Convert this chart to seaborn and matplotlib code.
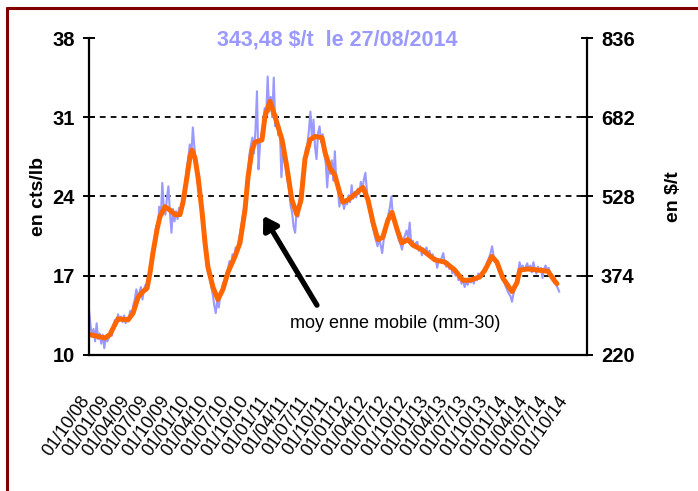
import pandas as pd
import matplotlib
matplotlib.use("Agg")
import matplotlib.pyplot as plt
import matplotlib.dates as mdates
import matplotlib.transforms as mtransforms
from matplotlib.lines import Line2D
import seaborn as sns

sns.set_style("white")
plt.rcParams["font.family"] = ["Liberation Sans", "DejaVu Sans"]
plt.rcParams["text.color"] = "black"
plt.rcParams["axes.labelcolor"] = "black"
plt.rcParams["xtick.color"] = "black"
plt.rcParams["ytick.color"] = "black"
plt.rcParams["axes.edgecolor"] = "black"

# weekly prices (cts/lb), first week 01/10/2008, last 27/08/2014
raw_start = "2008-10-01"
raw_prices = [
    14.0, 12.6, 11.6, 12.3, 11.2, 12.8, 11.4, 11.9, 11.0, 11.8, 10.6, 11.6, 11.2,
    11.5, 12.0, 11.7, 12.6, 13.1, 12.8, 13.6, 13.0, 13.4, 12.9, 13.5, 12.8, 13.3,
    13.2, 13.9, 13.5, 14.4, 14.9, 15.8, 15.2, 15.5, 16.0, 14.9, 15.8, 16.2, 15.7,
    16.8, 17.6, 18.4, 19.3, 20.2, 21.4, 21.0, 23.1, 22.0, 25.2, 23.0, 22.4, 23.8,
    24.9, 22.6, 20.8, 22.9, 21.8, 22.7, 22.0, 23.0, 22.3, 23.6, 24.4, 25.2, 26.5,
    27.4, 28.6, 27.6, 30.1, 28.4, 27.0, 25.2, 26.0, 23.4, 22.0, 20.4, 19.2, 18.3,
    17.2, 16.9, 16.1, 15.4, 14.4, 13.7, 14.9, 14.2, 15.3, 15.8, 16.4, 16.1, 17.2,
    17.6, 18.3, 17.9, 18.9, 18.4, 19.5, 19.0, 20.1, 20.8, 21.6, 22.5, 23.4, 24.6,
    26.0, 27.6, 28.5, 29.2, 27.8, 29.8, 33.3, 26.4, 28.6, 29.5, 30.3, 31.8, 30.9,
    34.6, 31.5, 32.8, 31.0, 34.5, 30.2, 31.2, 29.4, 29.9, 25.7, 28.0, 27.2, 26.3,
    25.4, 24.6, 23.2, 22.6, 21.3, 20.8, 22.9, 22.2, 23.9, 24.8, 25.9, 27.0, 28.2,
    28.6, 29.8, 31.5, 29.0, 30.8, 28.4, 27.3, 29.6, 30.2, 28.8, 29.5, 27.8, 27.0,
    24.8, 26.9, 26.0, 27.2, 25.4, 28.0, 25.1, 24.6, 23.1, 24.0, 23.8, 22.9, 23.6,
    23.3, 24.1, 23.5, 25.0, 23.8, 24.4, 23.9, 24.7, 24.2, 25.3, 24.6, 25.5, 26.1,
    24.5, 23.2, 22.6, 21.8, 21.2, 20.6, 20.1, 19.6, 20.4, 19.7, 19.0, 20.2, 20.8,
    21.6, 22.4, 23.0, 24.0, 22.3, 21.8, 21.2, 20.6, 20.1, 19.8, 19.3, 20.2, 20.6,
    21.0, 20.3, 21.7, 19.8, 20.1, 19.5, 19.9, 20.0, 19.2, 19.6, 18.8, 19.4, 19.1,
    19.5, 18.9, 19.2, 18.6, 18.9, 18.3, 18.6, 17.7, 18.4, 18.2, 18.6, 19.0, 18.1,
    17.8, 18.2, 17.6, 17.9, 17.2, 17.6, 17.0, 17.3, 16.6, 16.9, 16.3, 16.6, 16.0,
    16.5, 16.2, 16.8, 16.4, 16.7, 16.3, 16.9, 16.6, 17.2, 16.8, 17.0, 17.4, 17.7,
    17.9, 18.3, 18.6, 19.0, 19.6, 18.7, 18.3, 18.0, 17.6, 17.3, 17.0, 16.7, 16.4,
    16.0, 15.7, 15.4, 15.2, 14.7, 15.4, 15.9, 16.6, 17.3, 18.2, 17.6, 17.9, 17.4,
    17.8, 18.1, 17.5, 17.9, 17.3, 18.2, 17.6, 17.2, 17.8, 17.4, 17.7, 16.8, 17.6,
    17.9, 17.5, 17.7, 17.2, 17.0, 16.6, 16.8, 16.2, 15.9, 15.58,
]

# 30-day moving average
ma_dates = [
    "2008-10-05", "2008-10-28", "2008-11-20", "2008-12-13", "2009-01-05", "2009-01-28",
    "2009-02-11", "2009-03-29", "2009-04-21", "2009-05-14", "2009-06-05", "2009-06-24",
    "2009-07-08", "2009-07-21", "2009-08-09", "2009-08-22", "2009-09-14", "2009-10-07",
    "2009-10-30", "2009-11-22", "2009-12-06", "2009-12-24", "2010-01-07", "2010-01-16",
    "2010-01-30", "2010-02-13", "2010-03-03", "2010-03-17", "2010-03-30", "2010-04-22",
    "2010-05-15", "2010-06-07", "2010-06-30", "2010-08-01", "2010-08-24", "2010-09-16",
    "2010-09-30", "2010-10-18", "2010-11-01", "2010-12-03", "2010-12-17", "2011-01-09",
    "2011-01-31", "2011-03-05", "2011-03-27", "2011-04-19", "2011-05-12", "2011-05-31",
    "2011-06-18", "2011-07-11", "2011-08-03", "2011-09-04", "2011-09-18", "2011-10-11",
    "2011-11-02", "2011-11-25", "2011-12-09", "2012-01-01", "2012-02-02", "2012-03-10",
    "2012-04-02", "2012-04-25", "2012-05-17", "2012-06-09", "2012-07-02", "2012-07-21",
    "2012-08-13", "2012-09-04", "2012-10-02", "2012-10-25", "2012-12-05", "2013-02-03",
    "2013-03-21", "2013-05-05", "2013-06-11", "2013-07-13", "2013-08-28", "2013-09-20",
    "2013-10-22", "2013-11-14", "2013-12-11", "2014-01-22", "2014-02-14", "2014-02-27",
    "2014-04-05", "2014-05-21", "2014-07-06", "2014-08-07", "2014-08-16",
]
ma_values = [
    11.8, 11.7, 11.6, 11.5, 11.8, 12.7,
    13.2, 13.1, 13.7, 15.1, 15.6, 15.9,
    17.3, 19.0, 21.1, 22.2, 23.1, 22.8,
    22.4, 22.4, 23.5, 25.7, 27.5, 28.1,
    27.4, 25.7, 22.7, 19.9, 17.8, 16.0,
    14.9, 15.8, 17.3, 18.7, 19.9, 22.8,
    25.7, 28.1, 28.8, 29.0, 31.1, 32.4,
    31.1, 29.0, 26.6, 23.7, 22.4, 23.7,
    27.3, 29.0, 29.3, 29.2, 27.9, 26.5,
    25.9, 24.3, 23.5, 23.7, 24.2, 24.8,
    23.7, 21.7, 20.2, 20.4, 21.9, 22.6,
    21.1, 19.9, 20.2, 19.7, 19.3, 18.4,
    18.2, 17.5, 16.6, 16.6, 16.9, 17.5,
    18.7, 18.2, 16.8, 15.6, 16.4, 17.5,
    17.6, 17.5, 17.4, 16.5, 16.3,
]

left_ticks = [10, 17, 24, 31, 38]
right_ticks = [220, 374, 528, 682, 836]
grid_levels = [17, 24, 31]
quarters = pd.date_range("2008-10-01", "2015-01-01", freq="QS")
quarter_labels = [d.strftime("%d/%m/%y") for d in quarters[:-1]] + [""]

raw = pd.DataFrame({
    "date": pd.date_range(raw_start, periods=len(raw_prices), freq="7D"),
    "price": raw_prices,
})
ma = pd.DataFrame({"date": pd.to_datetime(ma_dates), "price": ma_values})

blue = "#9999FF"
orange = "#FF6600"

fig = plt.figure(figsize=(6.98, 4.91), dpi=100)
ax = fig.add_axes([0.1275, 0.277, 0.7135, 0.6456])

sns.lineplot(data=raw, x="date", y="price", ax=ax, color=blue, linewidth=1.5)
sns.lineplot(data=ma, x="date", y="price", ax=ax, color=orange, linewidth=3.6)

for lvl in grid_levels:
    ax.axhline(lvl, color="black", linestyle=(0, (3.2, 2.8)), linewidth=1.3, zorder=0)

ax.set_ylim(10, 38)
ax.set_yticks(left_ticks)
ax.set_xlim(mdates.date2num(quarters[0]), mdates.date2num(quarters[-1]))
ax.set_xticks(mdates.date2num(quarters))
ax.set_xticklabels(quarter_labels)
ax.set_xlabel("")
ax.set_ylabel("en cts/lb", fontsize=14, fontweight="bold", labelpad=4)

ax.tick_params(axis="y", direction="inout", length=8, width=1.4,
               labelsize=14.5, pad=6)
for t in ax.get_yticklabels():
    t.set_fontweight("bold")
ax.tick_params(axis="x", direction="out", length=7, width=1.4,
               labelsize=12.8, pad=20)
shift = mtransforms.ScaledTranslation(-7 / 72, 0, fig.dpi_scale_trans)
for t in ax.get_xticklabels():
    t.set_rotation(55)
    t.set_ha("right")
    t.set_va("top")
    t.set_rotation_mode("anchor")
    t.set_transform(t.get_transform() + shift)

for side in ["top", "right"]:
    ax.spines[side].set_visible(False)
for side in ["left", "bottom"]:
    ax.spines[side].set_linewidth(1.6)

ax2 = ax.twinx()
ax2.set_ylim(220, 836)
ax2.set_yticks(right_ticks)
ax2.tick_params(axis="y", direction="inout", length=8, width=1.4,
                labelsize=14.5, pad=6)
for t in ax2.get_yticklabels():
    t.set_fontweight("bold")
for side in ["top", "left", "bottom"]:
    ax2.spines[side].set_visible(False)
ax2.spines["right"].set_linewidth(1.6)
ax2.set_ylabel("en $/t", fontsize=14, fontweight="bold", labelpad=22)

# annotation arrow
ax.annotate("", xy=(mdates.date2num(pd.Timestamp("2010-12-09")), 22.3),
            xytext=(mdates.date2num(pd.Timestamp("2011-08-12")), 14.4),
            arrowprops=dict(arrowstyle="-|>,head_length=0.8,head_width=0.5",
                            color="black", lw=3.8, shrinkA=0, shrinkB=0))
ax.text(mdates.date2num(pd.Timestamp("2012-08-03")), 12.8,
        "moy enne mobile (mm-30)", fontsize=13, ha="center", va="center")

fig.text(337 / 698, 1 - 40 / 491, "343,48 $/t  le 27/08/2014",
         color=blue, fontsize=15.5, fontweight="bold", ha="center", va="center")

# dark red frame
fig.add_artist(Line2D([7.5 / 698, 7.5 / 698], [0, 1 - 7.5 / 491],
                      transform=fig.transFigure, color="#800000", lw=2.2))
fig.add_artist(Line2D([7.5 / 698, 1], [1 - 7.5 / 491, 1 - 7.5 / 491],
                      transform=fig.transFigure, color="#800000", lw=2.2))

fig.savefig("out.png", dpi=100)
